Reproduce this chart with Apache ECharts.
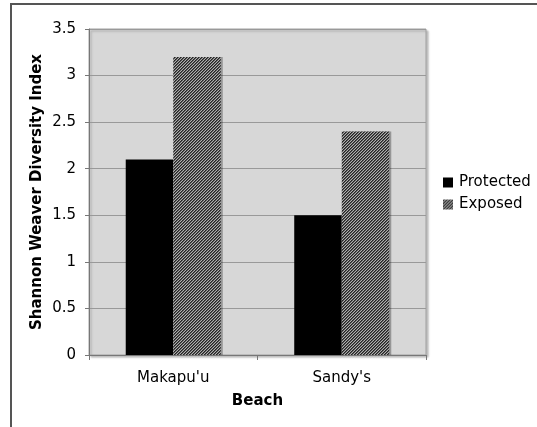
<!DOCTYPE html>
<html><head><meta charset="utf-8">
<script src="https://cdn.jsdelivr.net/npm/echarts@6/dist/echarts.min.js"></script>
<style>html,body{margin:0;padding:0;background:#fff}#c{width:537px;height:427px}</style>
</head><body><div id="c"></div>
<script>
const categories = ["Makapu'u", "Sandy's"];
const protectedVals = [2.1, 1.5];
const exposedVals = [3.2, 2.4];
const seriesNames = ['Protected', 'Exposed'];

function hatch() {
  const c = document.createElement('canvas');
  c.width = 3; c.height = 3;
  const g = c.getContext('2d');
  const img = g.createImageData(3, 3);
  const shades = [35, 90, 175];
  for (let y = 0; y < 3; y++) for (let x = 0; x < 3; x++) {
    const v = shades[(x + y) % 3];
    const i = (y * 3 + x) * 4;
    img.data[i] = v; img.data[i + 1] = v; img.data[i + 2] = v; img.data[i + 3] = 255;
  }
  g.putImageData(img, 0, 0);
  return { image: c, repeat: 'repeat' };
}

const font = 'DejaVu Sans, Verdana, sans-serif';
const chart = echarts.init(document.getElementById('c'));
chart.setOption({
  animation: false,
  graphic: [{
    type: 'polyline', silent: true, z: -10,
    shape: { points: [[11, 440], [11, 4], [560, 4]] },
    style: { fill: 'none', stroke: '#555', lineWidth: 2 }
  }],
  grid: {
    left: 89, top: 29, right: 111, bottom: 72, show: true,
    backgroundColor: '#d7d7d7', borderColor: '#a0a0a0', borderWidth: 1,
    shadowColor: 'rgba(0,0,0,0.25)', shadowOffsetX: 2, shadowOffsetY: 2, shadowBlur: 2
  },
  legend: {
    orient: 'vertical', left: 443, top: 175, padding: 0, itemWidth: 10, itemHeight: 10, itemGap: 7,
    icon: 'rect',
    textStyle: { fontFamily: font, fontSize: 15, color: '#000', padding: [0, 0, 0, 1] },
    data: seriesNames
  },
  xAxis: {
    type: 'category', data: categories,
    name: 'Beach', nameLocation: 'middle', nameGap: 39, nameMoveOverlap: false,
    nameTextStyle: { fontFamily: font, fontSize: 15, fontWeight: 'bold', color: '#000' },
    axisLine: { lineStyle: { color: '#777', width: 1 } },
    axisTick: { show: true, length: 5, lineStyle: { color: '#777' } },
    axisLabel: { fontFamily: font, fontSize: 15, color: '#000', margin: 16 },
    splitLine: { show: false }
  },
  yAxis: {
    type: 'value', min: 0, max: 3.5, interval: 0.5,
    name: 'Shannon Weaver Diversity Index', nameLocation: 'middle', nameGap: 44, nameMoveOverlap: false,
    nameTextStyle: { fontFamily: font, fontSize: 15, fontWeight: 'bold', color: '#000' },
    axisLine: { show: true, lineStyle: { color: '#777', width: 1 } },
    axisTick: { show: true, length: 4, lineStyle: { color: '#777' } },
    axisLabel: { fontFamily: font, fontSize: 15, color: '#000', margin: 13 },
    splitLine: { lineStyle: { color: '#999', width: 1 } }
  },
  series: [
    { name: seriesNames[0], type: 'bar', data: protectedVals, barGap: '0%', barCategoryGap: '43.6%',
      itemStyle: { color: '#000' } },
    { name: seriesNames[1], type: 'bar', data: exposedVals, barGap: '0%', barCategoryGap: '43.6%',
      itemStyle: { color: hatch(), shadowColor: 'rgba(0,0,0,0.3)', shadowOffsetX: 2, shadowBlur: 1 } }
  ]
});
</script></body></html>
